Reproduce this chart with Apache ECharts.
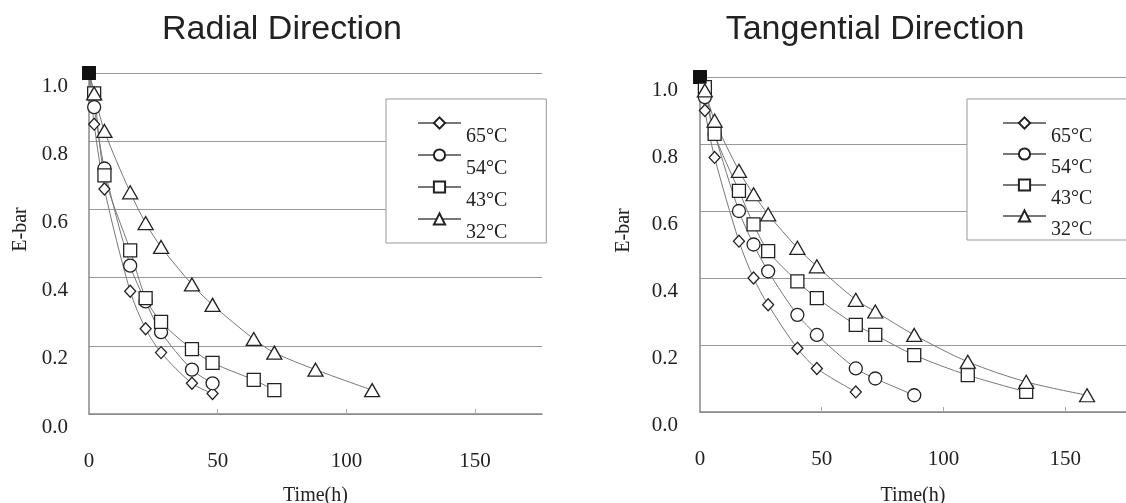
<!DOCTYPE html>
<html>
<head>
<meta charset="utf-8">
<script src="https://cdn.jsdelivr.net/npm/echarts@6.0.0/dist/echarts.min.js"></script>
<style>
  html, body { margin: 0; padding: 0; background: #fff; }
  #chart { width: 1126px; height: 503px; }
</style>
</head>
<body>
<div id="chart"></div>
<script>
// temperatures and their markers
const temps = ['65°C', '54°C', '43°C', '32°C'];
const markers = ['diamond', 'circle', 'rect', 'triangle'];
const markerSizes = [[11, 12], 13, 13, [15, 13]];

// radial direction (time in hours, E-bar)
const radialTime = [0, 2, 6, 16, 22, 28, 40, 48, 64, 72, 88, 110];
const radial65 = [1.0, 0.85, 0.66, 0.36, 0.25, 0.18, 0.09, 0.06];
const radial54 = [1.0, 0.90, 0.72, 0.435, 0.33, 0.24, 0.13, 0.09];
const radial43 = [1.0, 0.94, 0.70, 0.48, 0.34, 0.27, 0.19, 0.15, 0.10, 0.07];
const radial32 = [1.0, 0.94, 0.83, 0.65, 0.56, 0.49, 0.38, 0.32, 0.22, 0.18, 0.13, 0.07];

// tangential direction
const tangTime = [0, 2, 6, 16, 22, 28, 40, 48, 64, 72, 88, 110, 134, 159];
const tang65 = [1.0, 0.90, 0.76, 0.51, 0.40, 0.32, 0.19, 0.13, 0.06];
const tang54 = [1.0, 0.94, 0.83, 0.60, 0.50, 0.42, 0.29, 0.23, 0.13, 0.10, 0.05];
const tang43 = [1.0, 0.97, 0.83, 0.66, 0.56, 0.48, 0.39, 0.34, 0.26, 0.23, 0.17, 0.11, 0.06];
const tang32 = [1.0, 0.96, 0.87, 0.72, 0.65, 0.59, 0.49, 0.435, 0.335, 0.30, 0.23, 0.15, 0.09, 0.05];

const xTicks = [0, 50, 100, 150];

const serif = '"Liberation Serif", "DejaVu Serif", serif';
const sans = '"Liberation Sans", Arial, sans-serif';

const myChart = echarts.init(document.getElementById('chart'));

function makeSeries(idx, times, values, k) {
    const data = values.map((v, i) => {
        if (i === 0) {
            // start point drawn as filled black box (all curves overlap there)
            return {
                value: [times[i], v],
                symbol: 'rect',
                symbolSize: 12,
                itemStyle: { color: '#111', borderColor: '#111' }
            };
        }
        return [times[i], v];
    });
    return {
        name: temps[k],
        type: 'line',
        xAxisIndex: idx,
        yAxisIndex: idx,
        data: data,
        smooth: 0.3,
        symbol: markers[k],
        symbolSize: markerSizes[k],
        showAllSymbol: true,
        lineStyle: { color: '#777', width: 1 },
        itemStyle: { color: '#fff', borderColor: '#222', borderWidth: 1.3 },
        emphasis: { disabled: true },
        z: 3
    };
}

function makeXAxis(idx, max, labelMargin, nameGap) {
    return {
        gridIndex: idx,
        type: 'value',
        min: 0,
        max: max,
        interval: 50,
        name: 'Time(h)',
        nameLocation: 'middle',
        nameGap: nameGap,
        nameTextStyle: { fontFamily: serif, fontSize: 20, color: '#222' },
        axisLine: { show: true, lineStyle: { color: '#888', width: 1.5 } },
        axisTick: { show: true, inside: true, length: 5, customValues: [50, 100, 150], lineStyle: { color: '#aaa' } },
        axisLabel: { customValues: xTicks, margin: labelMargin, fontFamily: serif, fontSize: 21, color: '#222' },
        splitLine: { show: false }
    };
}

function makeYAxis(idx, labelMargin, nameGap) {
    return {
        gridIndex: idx,
        type: 'value',
        min: 0,
        max: 1,
        interval: 0.2,
        name: 'E-bar',
        nameLocation: 'middle',
        nameGap: nameGap,
        nameTextStyle: { fontFamily: serif, fontSize: 20, color: '#222', padding: [0, 0, 0, 28] },
        axisLine: { show: true, lineStyle: { color: '#888', width: 1.5 } },
        axisTick: { show: false },
        axisLabel: {
            margin: labelMargin,
            fontFamily: serif,
            fontSize: 21,
            color: '#222',
            verticalAlign: 'top',
            lineHeight: 26,
            formatter: v => v.toFixed(1)
        },
        splitLine: { show: true, lineStyle: { color: '#999', width: 1.2 } }
    };
}

function makeLegend(left, top, gap, padding) {
    return {
        left: left,
        top: top,
        orient: 'vertical',
        data: temps,
        itemWidth: 43,
        itemHeight: 14,
        itemGap: gap,
        padding: padding,
        borderColor: '#999',
        borderWidth: 1,
        backgroundColor: '#fff',
        selectedMode: false,
        // text sits a little below its marker, as in the original figure
        formatter: name => '{t|' + name + '}',
        textStyle: {
            rich: {
                t: {
                    fontFamily: serif,
                    fontSize: 20,
                    color: '#222',
                    lineHeight: 10,
                    padding: [28, 0, 0, 0]
                }
            }
        }
    };
}

const option = {
    animation: false,
    backgroundColor: '#fff',
    title: [
        {
            text: 'Radial Direction',
            left: 282,
            top: 13,
            textAlign: 'center',
            padding: 0,
            textStyle: { fontFamily: sans, fontSize: 34, fontWeight: 'normal', color: '#222' }
        },
        {
            text: 'Tangential Direction',
            left: 875,
            top: 13,
            textAlign: 'center',
            padding: 0,
            textStyle: { fontFamily: sans, fontSize: 34, fontWeight: 'normal', color: '#222' }
        }
    ],
    legend: [
        makeLegend(386, 99, -16, [0, 39, 0, 31]),
        makeLegend(967, 99, -17, [0, 37, 0, 35])
    ],
    grid: [
        { left: 89, top: 73, width: 453, height: 341, outerBoundsMode: 'none' },
        { left: 700, top: 77, width: 426, height: 335, outerBoundsMode: 'none' }
    ],
    xAxis: [
        makeXAxis(0, 176, 37, 72),
        makeXAxis(1, 175, 37, 74)
    ],
    yAxis: [
        makeYAxis(0, 21, 58),
        makeYAxis(1, 22, 66)
    ],
    series: [
        makeSeries(0, radialTime, radial65, 0),
        makeSeries(0, radialTime, radial54, 1),
        makeSeries(0, radialTime, radial43, 2),
        makeSeries(0, radialTime, radial32, 3),
        makeSeries(1, tangTime, tang65, 0),
        makeSeries(1, tangTime, tang54, 1),
        makeSeries(1, tangTime, tang43, 2),
        makeSeries(1, tangTime, tang32, 3)
    ]
};

myChart.setOption(option);
window.addEventListener('resize', function () {
    myChart.resize();
});
</script>
</body>
</html>
